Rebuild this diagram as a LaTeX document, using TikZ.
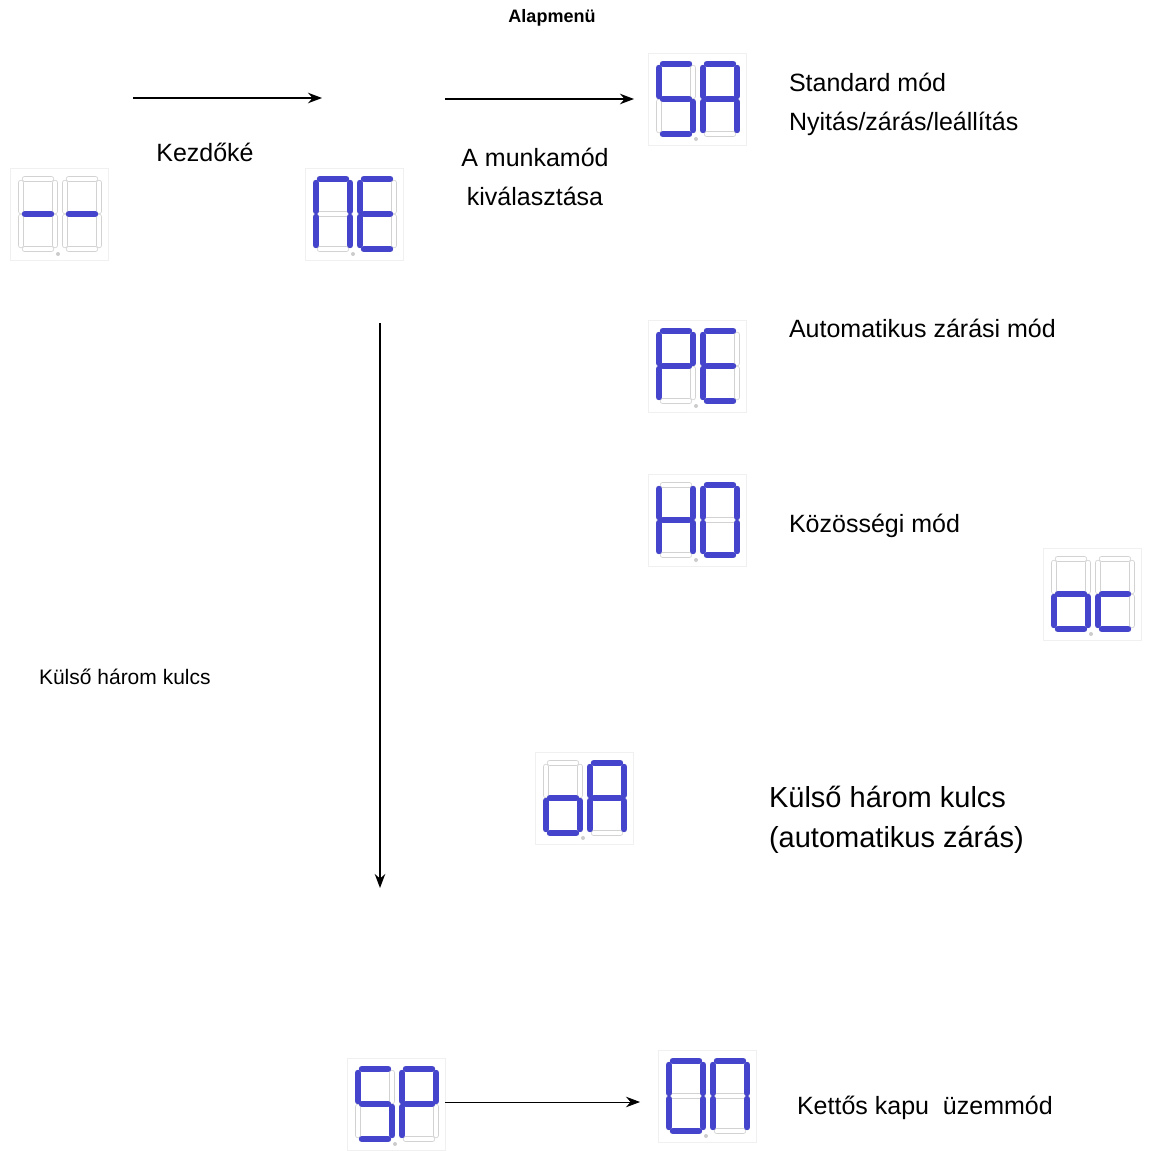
\documentclass[tikz,border=0pt]{standalone}
\usepackage{fontspec}
\setmainfont{Liberation Sans}
\usetikzlibrary{arrows.meta}

% segment paths of one digit, relative to its top left corner
\def\sega{(7,3)--(33,3)}
\def\segb{(37,7)--(37,35)}
\def\segc{(37,41)--(37,69)}
\def\segd{(7,73)--(33,73)}
\def\sege{(3,41)--(3,69)}
\def\segf{(3,7)--(3,35)}
\def\segg{(7,38)--(33,38)}

\newcommand{\segdigit}[3]{%
  \begin{scope}[shift={(#1,#2)}]
    \foreach \s in {a,b,c,d,e,f,g}
      \draw[segoff] \csname seg\s\endcsname;
    \foreach \s in {#3}
      \draw[segon] \csname seg\s\endcsname;
  \end{scope}}

\newcommand{\segdisplay}[5]{%
  \node[dispbox] (#1) at (#2+49,#3+46) {};
  \segdigit{#2+8}{#3+8}{#4}
  \segdigit{#2+52}{#3+8}{#5}
  \fill[gray!40] (#2+48,#3+86) circle (2);}

\begin{document}
\begin{tikzpicture}[x=0.5pt,y=-0.5pt,
    segon/.style={line width=3.2pt,line cap=round,color={rgb,255:red,68;green,68;blue,204}},
    segoff/.style={draw=gray!35,double=white,double distance=2.4pt,line cap=round},
    dispbox/.style={draw=gray!12,fill=white,minimum width=49pt,minimum height=46pt,inner sep=0pt},
    lbl/.style={font=\fontsize{12.5}{19.5}\selectfont,anchor=west,align=left},
    >={Stealth[length=7pt]}]
  \useasboundingbox (0,0) rectangle (1153,1151);

  \segdisplay{start}{10}{168}{g}{g}
  \segdisplay{menu}{305}{168}{a,b,c,e,f}{a,d,e,f,g}
  \segdisplay{sa}{648}{53}{a,f,g,c,d}{a,b,c,e,f,g}
  \segdisplay{pe}{648}{320}{a,b,f,g,e}{a,d,e,f,g}
  \segdisplay{ho}{648}{474}{b,c,e,f,g}{a,b,c,d,e,f}
  \segdisplay{oc}{1043}{548}{c,d,e,g}{d,e,g}
  \segdisplay{oa}{535}{752}{c,d,e,g}{a,b,c,e,f,g}
  \segdisplay{sp}{347}{1058}{a,f,g,c,d}{a,b,f,g,e}
  \segdisplay{on}{658}{1050}{a,b,c,d,e,f}{a,b,c,e,f}

  \coordinate (k1) at (133,98);
  \coordinate (k2) at (322,98);
  \coordinate (m1) at (445,99);
  \coordinate (m2) at (634,99);
  \coordinate (v1) at (380,323);
  \coordinate (v2) at (380,888);
  \coordinate (s2) at (640,1102);
  \draw[->,thick] (k1) -- (k2);
  \draw[->,thick] (m1) -- (m2);
  \draw[->,thick] (v1) -- (v2);
  \draw[->] (sp.east |- s2) -- (s2);

  \node[font=\bfseries\fontsize{9}{11}\selectfont] (title) at (552,18) {Alapmenü};
  \node[font=\fontsize{12.5}{15}\selectfont] (kezd) at (205,152) {Kezdőké};
  \node[font=\fontsize{12.5}{19.5}\selectfont,align=center] (valaszt) at (535,177) {A munkamód\\kiválasztása};
  \node[lbl] (tsa) at (782,104) {Standard mód\\Nyitás/zárás/leállítás};
  \node[lbl] (tpe) at (782,328) {Automatikus zárási mód};
  \node[lbl] (tho) at (782,526) {Közösségi mód};
  \node[font=\fontsize{10.5}{12}\selectfont,anchor=west] (tkul) at (32,677) {Külső három kulcs};
  \node[lbl,font=\fontsize{14.5}{20}\selectfont] (toa) at (762,820) {Külső három kulcs\\(automatikus zárás)};
  \node[lbl] (ton) at (790,1108) {Kettős kapu \ üzemmód};
\end{tikzpicture}
\end{document}
